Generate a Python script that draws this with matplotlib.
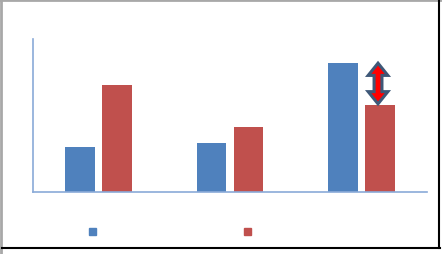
import matplotlib
matplotlib.use("Agg")
import matplotlib.pyplot as plt
from matplotlib.patches import Polygon, Rectangle
from matplotlib.lines import Line2D
import numpy as np

# data
categories = ["", "", ""]
series_a = [1.47, 1.60, 4.20]
series_b = [3.50, 2.12, 2.85]
colors = ["#4F81BD", "#C0504D"]

W, H = 442, 255
fig = plt.figure(figsize=(W / 100, H / 100), dpi=100)
fig.patch.set_facecolor("white")

ax = fig.add_axes([33 / W, 62 / H, 394 / W, 153 / H])
x = np.arange(len(categories))
width = 0.228
ax.bar(x - 0.141, series_a, width, color=colors[0])
ax.bar(x + 0.141, series_b, width, color=colors[1])
ax.set_xlim(-0.5, 2.5)
ax.set_ylim(0, 5)
ax.set_xticks([])
ax.set_yticks([])
for s in ["top", "right"]:
    ax.spines[s].set_visible(False)
for s in ["left", "bottom"]:
    ax.spines[s].set_color("#8AAAD8")
    ax.spines[s].set_linewidth(1.2)

# double-headed arrow between the two bars of the last group
xa = 2.127
lo, hi = series_b[2] + 0.03, series_a[2] + 0.01
hw, sw, hl = 0.075, 0.03, 0.40
pts = [(xa, hi), (xa + hw, hi - hl), (xa + sw, hi - hl),
       (xa + sw, lo + hl), (xa + hw, lo + hl), (xa, lo),
       (xa - hw, lo + hl), (xa - sw, lo + hl), (xa - sw, hi - hl),
       (xa - hw, hi - hl)]
ax.add_patch(Polygon(pts, closed=True, facecolor="#FF0000",
                     edgecolor="#3E5878", linewidth=2.2, zorder=5,
                     joinstyle="miter"))

# legend markers with no text
fig.add_artist(Rectangle((89 / W, 1 - 236 / H), 7 / W, 7 / H,
                         transform=fig.transFigure, color=colors[0]))
fig.add_artist(Rectangle((244 / W, 1 - 236 / H), 7 / W, 7 / H,
                         transform=fig.transFigure, color=colors[1]))

# frame around the picture
fig.add_artist(Line2D([0, 1], [1 - 1 / H, 1 - 1 / H], transform=fig.transFigure,
                      color="#A8A8A8", linewidth=2.0))
fig.add_artist(Line2D([1 / W, 1 / W], [0, 1], transform=fig.transFigure,
                      color="#A8A8A8", linewidth=2.0))
fig.add_artist(Line2D([2 / W, 439.5 / W], [1 - 248.5 / H, 1 - 248.5 / H],
                      transform=fig.transFigure, color="black", linewidth=1.5))
fig.add_artist(Line2D([439 / W, 439 / W], [1 - 248.5 / H, 1],
                      transform=fig.transFigure, color="black", linewidth=1.5))

fig.savefig("out.png", dpi=100)
